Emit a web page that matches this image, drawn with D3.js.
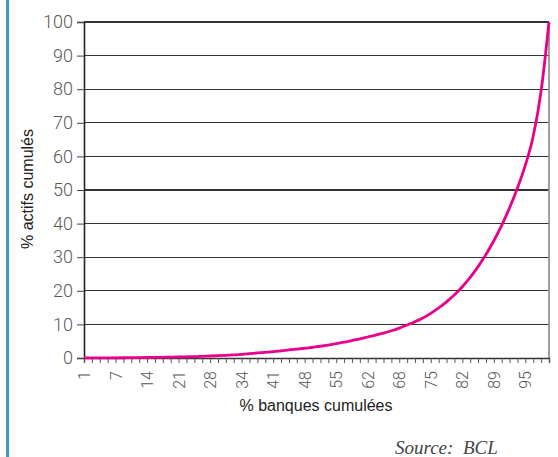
<!DOCTYPE html>
<html><head><meta charset="utf-8">
<script src="https://cdn.jsdelivr.net/npm/d3@7"></script>
<style>
html,body{margin:0;padding:0;background:#fff;}
svg{display:block;}
</style></head>
<body>
<svg id="c" width="558" height="457"></svg>
<script>
// % banques cumulées (categories)
const categories = [1,3,4,6,7,9,11,12,14,16,18,19,21,23,24,26,28,29,31,33,34,36,38,39,41,43,45,46,48,50,52,53,55,57,59,60,62,64,65,67,68,70,72,73,75,77,79,80,82,84,86,87,89,91,92,94,95,97,98,100];
// % actifs cumulés (series values)
const actifs = [0.01,0.02,0.03,0.04,0.06,0.08,0.1,0.12,0.15,0.18,0.2,0.25,0.3,0.35,0.4,0.5,0.6,0.7,0.8,0.9,1.1,1.3,1.5,1.7,1.9,2.1,2.4,2.65,2.9,3.2,3.5,3.85,4.25,4.7,5.2,5.7,6.25,6.8,7.4,8.1,8.9,9.8,10.8,11.9,13.3,14.9,16.7,18.8,21.2,24.0,27.2,30.8,34.9,39.5,44.7,50.6,57.4,66.0,79.5,100];
const yTicks = [0,10,20,30,40,50,60,70,80,90,100];
const labelEvery = 4;
const xTitle = "% banques cumulées";
const yTitle = "% actifs cumulés";
const source = "Source:  BCL";

const svg = d3.select("#c");
const m = {l:84, r:9, t:22, b:99};
const W = 558 - m.l - m.r, H = 457 - m.t - m.b;

// left blue rule
svg.append("rect").attr("x",6).attr("y",0).attr("width",3).attr("height",457).attr("fill","#3d9bc9");

const g = svg.append("g").attr("transform",`translate(${m.l},${m.t})`);
const idx = d3.range(categories.length);
const x = d3.scalePoint().domain(idx).range([0,W]);
const y = d3.scaleLinear().domain([0,100]).range([H,0]);

// gridlines
g.append("g").selectAll("line").data(yTicks.filter(d=>d>0)).join("line")
  .attr("x1",0).attr("x2",W).attr("y1",d=>y(d)).attr("y2",d=>y(d))
  .attr("stroke","#333").attr("stroke-width",1.2).attr("shape-rendering","crispEdges");

// right border
g.append("line").attr("x1",W).attr("x2",W).attr("y1",0).attr("y2",H)
  .attr("stroke","#888").attr("stroke-width",1.6);

// y axis
const ya = g.append("g").call(d3.axisLeft(y).tickValues(yTicks).tickSize(7).tickPadding(4));
ya.select(".domain").attr("stroke","#222").attr("stroke-width",1.6);
ya.selectAll(".tick line").attr("stroke","#444");
ya.selectAll(".tick text").attr("fill","#5a5a5a").style("font-family","Roboto, 'Liberation Sans', sans-serif")
  .style("font-weight","300").style("font-size","18px");

// x axis
const xa = g.append("g").attr("transform",`translate(0,${H})`)
  .call(d3.axisBottom(x).tickValues(idx).tickSize(5).tickFormat(i => i % labelEvery === 0 ? categories[i] : ""));
xa.select(".domain").attr("stroke","#333").attr("stroke-width",1.4);
xa.selectAll(".tick line").attr("stroke","#555");
xa.selectAll(".tick text")
  .attr("transform","rotate(-90)").attr("x",-13).attr("y",0).attr("dy","0.35em")
  .style("text-anchor","end").attr("fill","#555")
  .style("font-family","Roboto, 'Liberation Sans', sans-serif").style("font-weight","300").style("font-size","16px");

// curve
const line = d3.line().x((d,i)=>x(i)).y(d=>y(d)).curve(d3.curveMonotoneX);
g.append("path").datum(actifs).attr("d",line).attr("fill","none")
  .attr("stroke","#e8008a").attr("stroke-width",2.8).attr("stroke-linejoin","round");

// titles
svg.append("text").attr("x",316).attr("y",411).attr("text-anchor","middle")
  .style("font-family","'Liberation Sans', Arial, sans-serif").style("font-size","16px").attr("fill","#222").text(xTitle);
svg.append("text").attr("transform","translate(33,189) rotate(-90)").attr("text-anchor","middle")
  .style("font-family","'Liberation Sans', Arial, sans-serif").style("font-size","16px").attr("fill","#222").text(yTitle);

svg.append("text").attr("x",395).attr("y",454)
  .style("font-family","'Liberation Serif', 'Times New Roman', serif").style("font-style","italic")
  .style("font-size","19px").attr("fill","#444").text(source).style("white-space","pre");
</script>
</body></html>
